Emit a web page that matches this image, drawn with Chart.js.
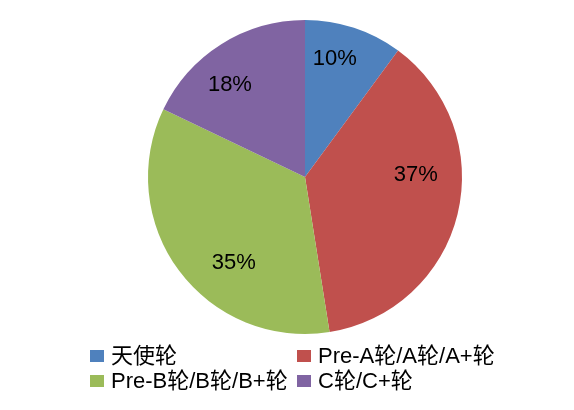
<!DOCTYPE html>
<html>
<head>
<meta charset="utf-8">
<script src="https://cdn.jsdelivr.net/npm/chart.js@4"></script>
<style>
  html, body { margin: 0; padding: 0; background: #fff; }
  #wrap { width: 574px; height: 410px; position: relative; }
</style>
</head>
<body>
<div id="wrap"><canvas id="pieChart"></canvas></div>
<script>
var labels = ['天使轮', 'Pre-A轮/A轮/A+轮', 'Pre-B轮/B轮/B+轮', 'C轮/C+轮'];
var values = [10.1, 37.4, 34.6, 17.9];
var colors = ['#4F81BD', '#C0504D', '#9BBB59', '#8064A2'];

var FONT = '"Liberation Sans", Arial, "Noto Sans CJK SC", sans-serif';

// percentage labels inside the slices; Excel's "best fit" pulls them a bit
// back from the mid angle, more so for the wide slices
var pctLabels = {
    id: 'pctLabels',
    afterDatasetsDraw: function (chart) {
        var ctx = chart.ctx;
        var total = values.reduce(function (a, b) { return a + b; }, 0);
        ctx.save();
        ctx.font = '22px ' + FONT;
        ctx.fillStyle = '#000';
        ctx.textAlign = 'center';
        ctx.textBaseline = 'middle';
        chart.getDatasetMeta(0).data.forEach(function (arc, i) {
            var span = arc.endAngle - arc.startAngle;
            var mid = (arc.startAngle + arc.endAngle) / 2 - 0.11 * span;
            var r = arc.outerRadius * (0.80 - 0.04 * span);
            var x = arc.x + Math.cos(mid) * r;
            var y = arc.y + Math.sin(mid) * r;
            ctx.fillText(Math.round(values[i] / total * 100) + '%', x, y);
        });
        ctx.restore();
    }
};

// two-column legend under the pie
var gridLegend = {
    id: 'gridLegend',
    afterDraw: function (chart) {
        var ctx = chart.ctx;
        var cols = [90, 297];
        var rows = [356, 381];
        ctx.save();
        ctx.font = '22px ' + FONT;
        ctx.textBaseline = 'middle';
        labels.forEach(function (lab, i) {
            var x = cols[i % 2];
            var y = rows[Math.floor(i / 2)];
            ctx.fillStyle = colors[i];
            ctx.fillRect(x, y - 6, 14, 12);
            ctx.fillStyle = '#000';
            ctx.fillText(lab, x + 21, y + 1);
        });
        ctx.restore();
    }
};

new Chart(document.getElementById('pieChart'), {
    type: 'pie',
    data: {
        labels: labels,
        datasets: [{
            data: values,
            backgroundColor: colors,
            borderWidth: 0
        }]
    },
    options: {
        responsive: true,
        maintainAspectRatio: false,
        animation: false,
        layout: {
            padding: { top: 20, bottom: 76, left: 148, right: 112 }
        },
        plugins: {
            legend: { display: false },
            tooltip: { enabled: false }
        }
    },
    plugins: [pctLabels, gridLegend]
});
</script>
</body>
</html>
